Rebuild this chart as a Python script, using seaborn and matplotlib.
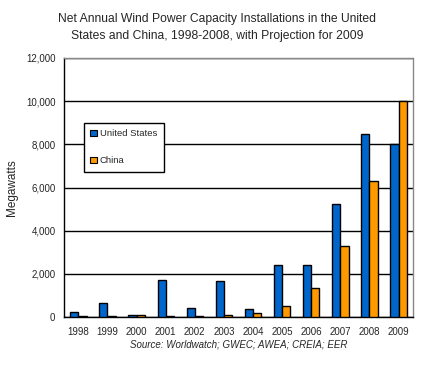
import pandas as pd
import numpy as np
import matplotlib
matplotlib.use('Agg')
import matplotlib.pyplot as plt
import seaborn as sns

years = ['1998', '1999', '2000', '2001', '2002', '2003', '2004', '2005', '2006', '2007', '2008', '2009']
us_mw = [230, 650, 80, 1710, 400, 1670, 360, 2410, 2420, 5220, 8500, 8000]
china_mw = [50, 40, 80, 40, 40, 90, 190, 500, 1330, 3280, 6290, 10000]
countries = ['United States', 'China']
colors = ['#0066CC', '#FF9900']

df = pd.DataFrame({
    'Year': years * 2,
    'Megawatts': us_mw + china_mw,
    'Country': [countries[0]] * len(years) + [countries[1]] * len(years),
})

sns.set_style('white')
plt.rcParams['font.family'] = ['Liberation Sans', 'DejaVu Sans']

fig = plt.figure(figsize=(4.34, 3.67), dpi=100)
ax = fig.add_axes([0.147, 0.136, 0.805, 0.706])

sns.barplot(data=df, x='Year', y='Megawatts', hue='Country', palette=colors,
            width=0.56, edgecolor='black', linewidth=1, saturation=1, ax=ax, zorder=3)

ax.set_ylim(0, 12000)
ax.set_xlim(-0.5, len(years) - 0.5)
ax.set_yticks(np.arange(0, 12001, 2000))
ax.set_yticklabels([f'{v:,}' for v in range(0, 12001, 2000)], fontsize=7)
ax.set_xticks(range(len(years)))
ax.set_xticklabels(years, fontsize=7)
ax.set_xticks(np.arange(-0.5, len(years), 1), minor=True)
ax.tick_params(axis='x', which='major', length=0, pad=7)
ax.tick_params(axis='x', which='minor', length=4, width=1, color='black', direction='out')
ax.tick_params(axis='y', length=4, width=1, color='black', direction='out', pad=2)
ax.grid(axis='y', color='black', linewidth=1, zorder=0)
ax.set_axisbelow(True)

for s in ['left', 'bottom']:
    ax.spines[s].set_color('black')
    ax.spines[s].set_linewidth(1)
for s in ['top', 'right']:
    ax.spines[s].set_color('#888888')
    ax.spines[s].set_linewidth(1)
    ax.spines[s].set_linestyle((0, (1, 1)))

ax.set_xlabel('')
ax.set_ylabel('Megawatts', fontsize=8.5, labelpad=6)

leg = ax.legend(loc='upper left', bbox_to_anchor=(0.057, 0.75), borderaxespad=0,
                fontsize=6.8, frameon=True, fancybox=False, edgecolor='black', framealpha=1,
                handlelength=0.7, handleheight=0.7, handletextpad=0.3, labelspacing=1.9,
                borderpad=0.7)
leg.get_frame().set_linewidth(1)
for h in leg.legend_handles:
    h.set_linewidth(0.8)

fig.text(0.5, 0.965, 'Net Annual Wind Power Capacity Installations in the United\nStates and China, 1998-2008, with Projection for 2009',
         ha='center', va='top', fontsize=8.7, linespacing=1.55)
fig.text(0.55, 0.06, 'Source: Worldwatch; GWEC; AWEA; CREIA; EER', ha='center', va='center',
         fontsize=7, style='italic')

plt.savefig('out.png', dpi=100)
